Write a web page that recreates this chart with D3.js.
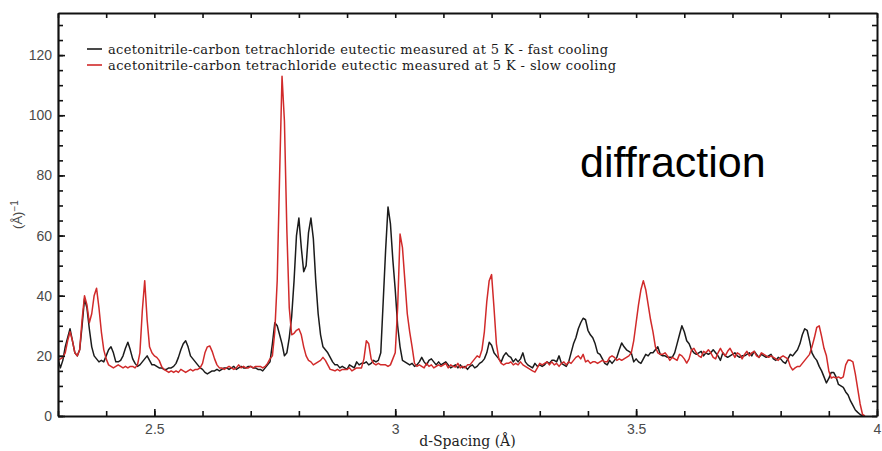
<!DOCTYPE html>
<html>
<head>
<meta charset="utf-8">
<script src="https://cdn.jsdelivr.net/npm/d3@7"></script>
<style>
  html, body { margin: 0; padding: 0; background: #ffffff; }
  svg { display: block; }
</style>
</head>
<body>
<svg id="chart" width="882" height="451"></svg>
<script>
// Neutron diffraction of the acetonitrile / CCl4 eutectic at 5 K.
// Intensities sampled on a uniform d-spacing grid starting at 2.300 Å, step 0.005 Å.
const dStart = 2.3;
const dStep = 0.005;

const fastCooling = [
  19,16,18.5,23,26,29,25,21,20,22,
  30,39,36,29,23,20,19,18,18.5,18,
  20,22,23,21,18,18,18.5,20,22.5,24.5,
  22,19,17.5,16.5,17,18,19,20,18.5,17,
  17,16.5,16,16,15.5,15.5,16,16,16.5,17.5,
  19.5,22,24,25,23,20,19,18,17,16,
  15.5,14.5,14,14.5,15,15,15.5,15,15.5,16,
  16,15.5,16,16.5,15.5,16,16.5,16,16,16.5,
  16.5,16,16,15.5,15.5,15,16,17,18,24,
  31,30,27,24,20,21,26,33,45,60,
  65.8,56,48,50,61,65.8,59,45,34,27,
  23,22,21,19.5,18,17,17,16,16.5,16,
  15.5,17,16.5,16,18,17,17.5,17.5,18,17,
  17.5,18.5,18,18.5,21,38,55,69.5,64,52,
  42,30,23,18.5,18,17.5,17,17.5,16.5,17,
  18,19.5,18,17,18.5,19,18,17,18,17,
  17.5,18,17,16,16.5,17,16,17,16,16.5,
  15.5,16.5,17,16,16.5,17.5,18,19,21,24.5,
  23.5,21,20,19,18,20,21,20,19.5,18,
  19,18,19,21,18,17,16.5,16,17.5,16.5,
  17,16.5,17,18,17.5,18.5,18.5,18,20,17.5,
  17,16.5,18,21,24,26,29,31,32.5,32,
  28.5,27,26,24,21,20.5,19,17.5,17,18.5,
  17.5,18.5,19.5,22,24.3,23,22,21.5,21,18,
  19,18,17.5,19,20.5,20,21,21,22,23,
  20.5,20,20,19.5,19.5,19.5,21,24,27,30,
  28,25,24,22,21,20.5,21,21.5,20,21,
  20.5,21,22,21,20,18.5,21,20,19.5,20,
  20.5,21,20,19.5,20,20,20.5,21,20,21.5,
  20.5,19.5,20.5,20,19.5,20,20.5,19,18.5,19.5,
  19,18,17.5,19,20.5,20,21,22,24,27,
  29,28.5,25,21,19.5,18.5,16.5,15,13,11,
  12.5,14.5,14.5,13,10.5,10,9.5,8,7,5,
  3.5,2,1.2,0.5,0,0
];

const slowCooling = [
  18.5,19,19.5,21,25,28,25,21,20,22,
  32,40,37,31,34,40,42.5,36,28,22,
  19,17,16.5,16,16.5,17,16.5,16,16.5,16,
  16.5,16.5,16,17,21,35,45,32,23,21,
  20,19.5,18.5,16.5,15.5,15,14.5,15,14.5,15,
  14.5,15.5,15,14.5,15,15.5,15,15.5,15.5,16,
  17.5,21,23,23.3,21.5,19,17,16,16,15.5,
  16,16.5,16,15.5,16,17,16,16.5,16,16,
  16.5,16,16.5,16.5,16.5,16,16.5,17.5,19,20,
  28,45,80,113,98,62,36,27,27.5,28.5,
  29,27,23,20,18.5,18,17,17.5,18,18.5,
  19.5,18.5,17,15.5,15.3,15,15.5,15,15.5,15.5,
  15.5,16,15,15.5,16,16,16,19,25,24,
  19,17.5,17,17.5,17,17,17,16.5,17,19,
  21,36,60.5,56,45,34,28,23,17.5,16.5,
  17,16.5,16,17.5,16.5,17,16,16.5,17,16.5,
  17,17.5,16,17,16.5,16.3,17.5,16,16.5,16,
  17,17,18,19,20,19.5,22,28,38,45,
  47,36,24,19,17.5,17,17.5,17.5,18,17,
  17.5,17,18,17,16.5,16,15.5,15,14.6,16,
  17.5,17,17.5,18,17,18,17,17.5,16.5,17.5,
  18,17,18,17.5,18.5,19.5,20,19,20.5,18,
  18.5,17.5,18,18,17.5,18,18.5,18,18,19.5,
  20,19.5,18.5,19,18.5,19,19.5,20,21,25,
  31,37,42,45,42,37,32,28,23,21,
  20.5,20.5,21,20,18.5,19.5,19,18.5,20.5,20,
  19,17.6,19,22,22.5,21,20,19.5,21.5,21,
  22,21,19.5,19,21,22.5,21,20,21.5,22.5,
  21,19.5,21,20.5,19,20.5,21.5,20,21,21.5,
  20,19.5,21,20.5,20,19.5,20,19.5,19,18.5,
  19.5,20,19.5,19,16.5,15.3,16,16.5,16.5,17.5,
  18.5,19.5,20.5,23,26,29.5,30,26.5,22.5,20,
  15,12.6,13,12.6,13,12.5,13,17,18.6,18.5,
  18,14,9,4,0.5,0
];

const dSpacing = fastCooling.map((_, i) => +(dStart + i * dStep).toFixed(3));

const seriesNames = [
  "acetonitrile-carbon tetrachloride eutectic measured at 5 K - fast cooling",
  "acetonitrile-carbon tetrachloride eutectic measured at 5 K - slow cooling"
];
const seriesColors = ["#1b1b1b", "#d12a2a"];

const xDomain = [2.3, 4.0];
const yDomain = [0, 134];
const xMajorTicks = [2.5, 3, 3.5, 4];
const xMinorTicks = [2.3, 2.4, 2.5, 2.6, 2.7, 2.8, 2.9, 3.0, 3.1, 3.2, 3.3, 3.4, 3.5, 3.6, 3.7, 3.8, 3.9, 4.0];
const yMajorTicks = [0, 20, 40, 60, 80, 100, 120];
const yMinorTicks = [0, 5, 10, 15, 20, 25, 30, 35, 40, 45, 50, 55, 60, 65, 70, 75, 80, 85, 90, 95, 100, 105, 110, 115, 120, 125, 130];
const xLabels = ["2.5", "3", "3.5", "4"];

const xTitle = "d-Spacing (Å)";
const noteText = "diffraction";

// ---- layout
const svg = d3.select("#chart");
const plot = { left: 58, right: 877, top: 13, bottom: 416 };

const x = d3.scaleLinear().domain(xDomain).range([plot.left, plot.right]);
const y = d3.scaleLinear().domain(yDomain).range([plot.bottom, plot.top]);

const tickFont = "'Liberation Sans', Arial, sans-serif";
const serifFont = "'DejaVu Serif', 'Liberation Serif', serif";

// ---- data lines (fast first, slow drawn over it)
svg.append("clipPath").attr("id", "plotClip")
  .append("rect")
  .attr("x", plot.left).attr("y", plot.top)
  .attr("width", plot.right - plot.left).attr("height", plot.bottom - plot.top);

const line = d3.line()
  .x((d, i) => x(dSpacing[i]))
  .y(d => y(d));

const lines = svg.append("g").attr("clip-path", "url(#plotClip)");
[fastCooling, slowCooling].forEach((vals, k) => {
  lines.append("path")
    .datum(vals)
    .attr("fill", "none")
    .attr("stroke", seriesColors[k])
    .attr("stroke-width", 1.5)
    .attr("stroke-linejoin", "round")
    .attr("d", line);
});

// ---- axes with inward ticks on all four sides
function styleAxis(g, width) {
  g.selectAll(".domain").attr("stroke", "#111").attr("stroke-width", width);
  g.selectAll(".tick line").attr("stroke", "#111").attr("stroke-width", 1.6);
  g.selectAll("text")
    .attr("fill", "#4a4a4a")
    .style("font-family", tickFont)
    .style("font-size", "14px");
}

// bottom
svg.append("g")
  .attr("transform", `translate(0,${plot.bottom})`)
  .call(d3.axisBottom(x).tickValues(xMinorTicks).tickSizeInner(-5).tickSizeOuter(0).tickFormat(""))
  .call(g => styleAxis(g, 2.2));
svg.append("g")
  .attr("transform", `translate(0,${plot.bottom})`)
  .call(d3.axisBottom(x).tickValues(xMajorTicks).tickSizeInner(-7).tickSizeOuter(0).tickPadding(8)
    .tickFormat((d, i) => xLabels[i]))
  .call(g => { styleAxis(g, 0); g.select(".domain").remove(); });

// top
svg.append("g")
  .attr("transform", `translate(0,${plot.top})`)
  .call(d3.axisTop(x).tickValues(xMinorTicks).tickSizeInner(-5).tickSizeOuter(0).tickFormat(""))
  .call(g => styleAxis(g, 2));

// left
svg.append("g")
  .attr("transform", `translate(${plot.left},0)`)
  .call(d3.axisLeft(y).tickValues(yMinorTicks).tickSizeInner(-5).tickSizeOuter(0).tickFormat(""))
  .call(g => styleAxis(g, 2.2));
svg.append("g")
  .attr("transform", `translate(${plot.left},0)`)
  .call(d3.axisLeft(y).tickValues(yMajorTicks).tickSizeInner(-7).tickSizeOuter(0).tickPadding(6))
  .call(g => { styleAxis(g, 0); g.select(".domain").remove(); });

// right
svg.append("g")
  .attr("transform", `translate(${plot.right},0)`)
  .call(d3.axisRight(y).tickValues(yMinorTicks).tickSizeInner(-5).tickSizeOuter(0).tickFormat(""))
  .call(g => styleAxis(g, 2));

// ---- axis titles
svg.append("text")
  .attr("x", (plot.left + plot.right) / 2)
  .attr("y", 446)
  .attr("text-anchor", "middle")
  .attr("fill", "#222")
  .style("font-family", serifFont)
  .style("font-size", "14px")
  .text(xTitle);

const yTitle = svg.append("text")
  .attr("transform", `translate(22,${(plot.top + plot.bottom) / 2}) rotate(-90)`)
  .attr("text-anchor", "middle")
  .attr("fill", "#4a4a4a")
  .style("font-family", tickFont)
  .style("font-size", "13px");
yTitle.append("tspan").text("(Å)");
yTitle.append("tspan").attr("dy", "-0.45em").style("font-size", "10px").text("−1");

// ---- legend
const legend = svg.append("g");
const legendRows = [
  { y: 49, width: 500 },
  { y: 65, width: 508 }
];
seriesNames.forEach((name, k) => {
  const row = legendRows[k];
  legend.append("line")
    .attr("x1", 87).attr("x2", 102)
    .attr("y1", row.y).attr("y2", row.y)
    .attr("stroke", seriesColors[k])
    .attr("stroke-width", 1.6);
  legend.append("text")
    .attr("x", 108)
    .attr("y", row.y + 4.5)
    .attr("fill", "#1a1a1a")
    .attr("textLength", row.width)
    .attr("lengthAdjust", "spacing")
    .style("font-family", serifFont)
    .style("font-size", "13px")
    .text(name);
});

// ---- annotation
svg.append("text")
  .attr("x", 580)
  .attr("y", 177)
  .attr("fill", "#000")
  .style("font-family", "'Liberation Sans', Arial, sans-serif")
  .style("font-size", "43px")
  .text(noteText);
</script>
</body>
</html>
